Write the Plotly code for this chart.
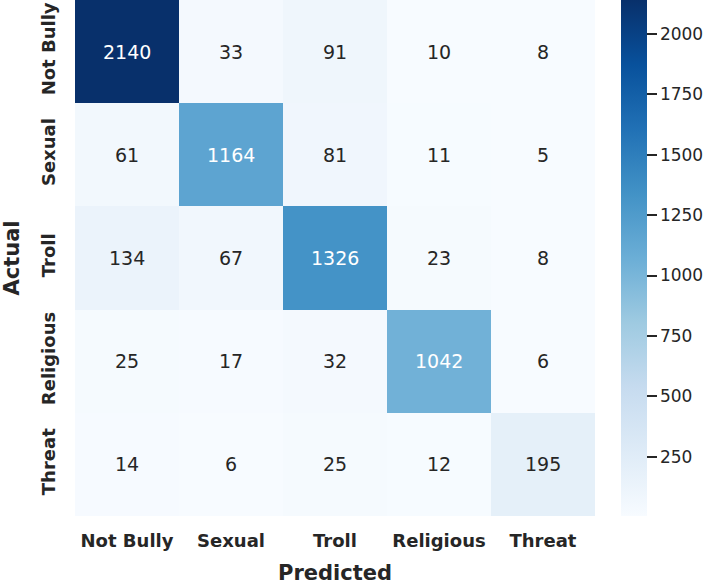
import plotly.graph_objects as go

labels = ["Not Bully", "Sexual", "Troll", "Religious", "Threat"]
values = [
    [2140, 33, 91, 10, 8],
    [61, 1164, 81, 11, 5],
    [134, 67, 1326, 23, 8],
    [25, 17, 32, 1042, 6],
    [14, 6, 25, 12, 195],
]
cbar_ticks = [250, 500, 750, 1000, 1250, 1500, 1750, 2000]
x_title = "Predicted"
y_title = "Actual"

zmin = min(min(r) for r in values)
zmax = max(max(r) for r in values)

fig = go.Figure(go.Heatmap(
    z=values, x=labels, y=labels,
    colorscale="Blues", zmin=zmin, zmax=zmax,
    showscale=True,
    colorbar=dict(
        x=1.05, xanchor="left", thickness=26, len=1.0, lenmode="fraction",
        y=0.5, yanchor="middle", outlinewidth=0, xpad=0, ypad=0,
        tickvals=cbar_ticks, ticks="outside", ticklen=10, tickwidth=1.8, tickcolor="#262626",
        tickfont=dict(family="DejaVu Sans", size=17, color="#262626"),
    ),
    hoverinfo="skip",
))

annotations = []
for i, row in enumerate(values):
    for j, v in enumerate(row):
        frac = (v - zmin) / (zmax - zmin)
        color = "white" if frac > 0.45 else "#262626"
        annotations.append(dict(
            x=labels[j], y=labels[i], text=str(v), showarrow=False,
            font=dict(family="DejaVu Sans", size=19, color=color),
        ))

title_font = dict(family="DejaVu Sans", size=21, color="#262626", weight="bold")
annotations.append(dict(
    xref="paper", yref="paper", x=0.5, y=-0.1114, xanchor="center", yanchor="middle",
    text=x_title, showarrow=False, font=title_font, borderpad=0,
))
annotations.append(dict(
    xref="paper", yref="paper", x=-0.122, y=0.5, xanchor="center", yanchor="middle",
    text=y_title, showarrow=False, font=title_font, textangle=-90, borderpad=0,
))

fig.update_layout(
    width=708, height=587,
    margin=dict(l=75, r=113, t=0, b=71, autoexpand=False),
    paper_bgcolor="white", plot_bgcolor="white",
    annotations=annotations,
    xaxis=dict(
        showgrid=False, zeroline=False, ticks="outside", ticklen=8, tickcolor="rgba(0,0,0,0)",
        tickfont=dict(family="DejaVu Sans", size=18, color="#262626", weight="bold"),
    ),
    yaxis=dict(
        autorange="reversed", showgrid=False, zeroline=False, ticks="outside", ticklen=12,
        tickcolor="rgba(0,0,0,0)", tickangle=-90,
        tickfont=dict(family="DejaVu Sans", size=18, color="#262626", weight="bold"),
    ),
)

fig.write_html("out.html")
